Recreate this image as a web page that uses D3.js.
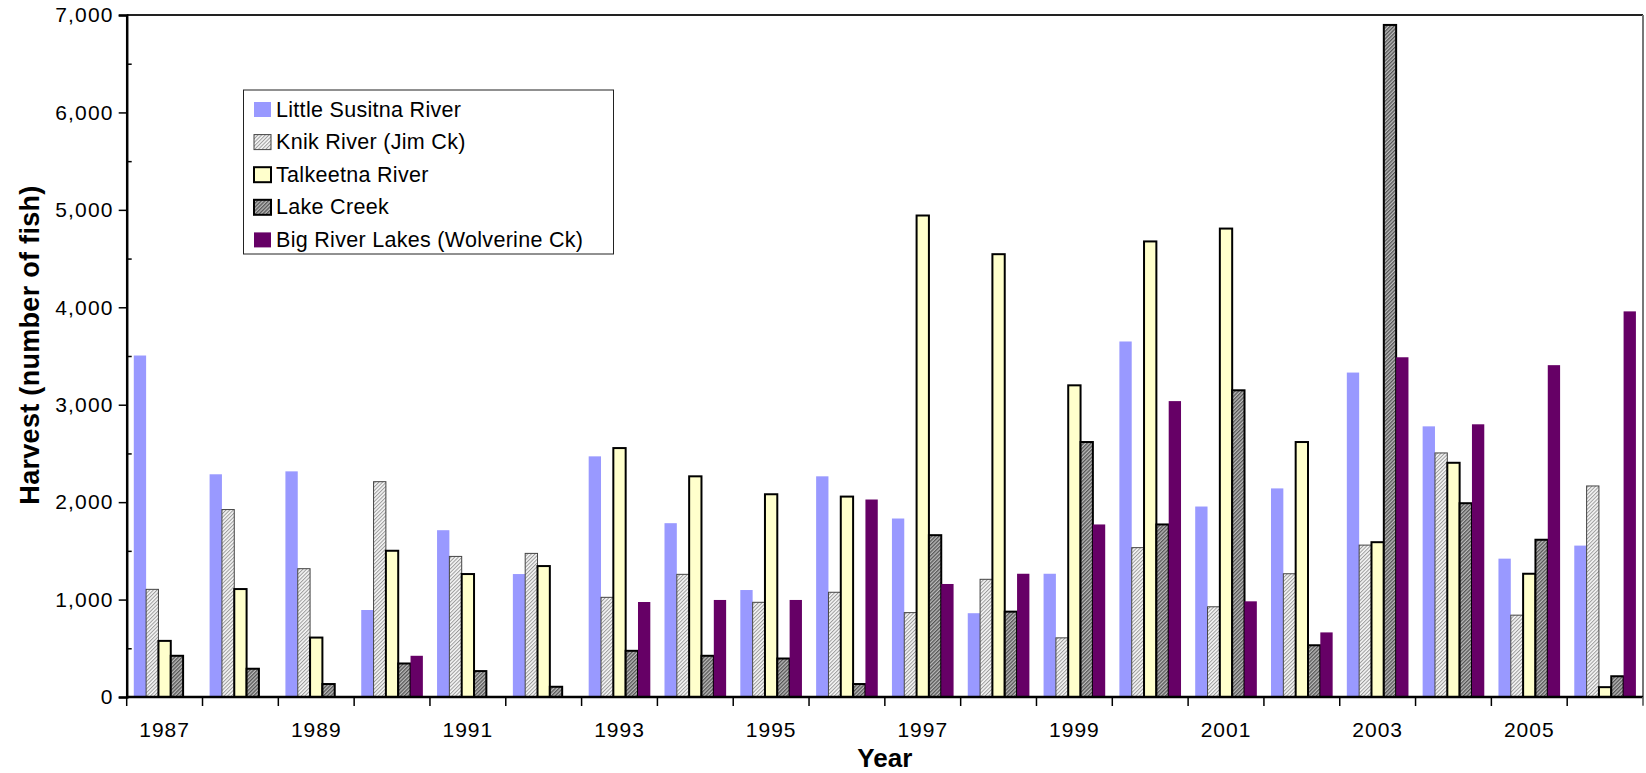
<!DOCTYPE html>
<html>
<head>
<meta charset="utf-8">
<script src="https://cdn.jsdelivr.net/npm/d3@7"></script>
<style>
  body { margin: 0; background: #fff; }
  svg { display: block; font-family: "Liberation Sans", Arial, sans-serif; }
</style>
</head>
<body>
<div id="chart-holder"></div>
<script>
// data
var years = [1987, 1988, 1989, 1990, 1991, 1992, 1993, 1994, 1995, 1996,
             1997, 1998, 1999, 2000, 2001, 2002, 2003, 2004, 2005, 2006];
var seriesNames = ["Little Susitna River", "Knik River (Jim Ck)", "Talkeetna River",
                   "Lake Creek", "Big River Lakes (Wolverine Ck)"];
var littleSusitna = [3505, 2286, 2316, 893, 1712, 1262, 2470, 1784, 1098, 2265,
                     1832, 860, 1265, 3649, 1955, 2141, 3330, 2778, 1420, 1554];
var knik = [1105, 1924, 1317, 2210, 1443, 1474, 1023, 1259, 972, 1075,
            866, 1208, 607, 1533, 926, 1265, 1559, 2505, 840, 2166];
var talkeetna = [576, 1108, 610, 1501, 1262, 1344, 2555, 2265, 2081, 2057,
                 4942, 4545, 3199, 4676, 4808, 2617, 1589, 2404, 1265, 101];
var lakeCreek = [423, 290, 133, 344, 266, 105, 474, 423, 395, 133,
                 1661, 876, 2617, 1771, 3148, 531, 6898, 1989, 1614, 213];
var bigRiver = [0, 0, 0, 423, 0, 0, 975, 996, 996, 2027,
                1160, 1265, 1771, 3037, 982, 663, 3487, 2799, 3406, 3958];
var yTicks = [0, 1000, 2000, 3000, 4000, 5000, 6000, 7000];
var yMinorTicks = [500, 1500, 2500, 3500, 4500, 5500, 6500];
var yearLabels = [1987, 1989, 1991, 1993, 1995, 1997, 1999, 2001, 2003, 2005];

var allSeries = [littleSusitna, knik, talkeetna, lakeCreek, bigRiver];

// looks of each series
var fills = ["#9999ff", "url(#hatchLight)", "#ffffcc", "url(#hatchDark)", "#660066"];
var strokes = ["none", "#444", "#000", "#000", "none"];
var strokeWidths = [0, 1, 2, 2, 0];

var width = 1646, height = 773;
var plotLeft = 126.7, plotRight = 1643, plotTop = 15, plotBottom = 697;

var svg = d3.select("#chart-holder")
  .append("svg")
  .attr("width", width)
  .attr("height", height);

// patterns for the two hatched series
var defs = svg.append("defs");
var p1 = defs.append("pattern")
  .attr("id", "hatchLight")
  .attr("patternUnits", "userSpaceOnUse")
  .attr("width", 2.6).attr("height", 2.6)
  .attr("patternTransform", "rotate(45)");
p1.append("rect").attr("width", 2.6).attr("height", 2.6).attr("fill", "#f6f6f6");
p1.append("rect").attr("width", 1).attr("height", 2.6).attr("fill", "#9a9a9a");

var p2 = defs.append("pattern")
  .attr("id", "hatchDark")
  .attr("patternUnits", "userSpaceOnUse")
  .attr("width", 2.6).attr("height", 2.6)
  .attr("patternTransform", "rotate(45)");
p2.append("rect").attr("width", 2.6).attr("height", 2.6).attr("fill", "#bcbcbc");
p2.append("rect").attr("width", 1.3).attr("height", 2.6).attr("fill", "#555");

// scales
var x0 = d3.scaleBand()
  .domain(years)
  .range([plotLeft, plotRight])
  .padding(0);

var x1 = d3.scaleBand()
  .domain(d3.range(seriesNames.length))
  .range([0, x0.bandwidth()])
  .paddingInner(0)
  .paddingOuter(0.575);

var y = d3.scaleLinear()
  .domain([0, 7000])
  .range([plotBottom, plotTop]);

// bars
var groups = svg.append("g")
  .selectAll("g")
  .data(allSeries)
  .enter()
  .append("g")
  .attr("fill", function(d, i) { return fills[i]; })
  .attr("stroke", function(d, i) { return strokes[i]; })
  .attr("stroke-width", function(d, i) { return strokeWidths[i]; });

groups.each(function(values, si) {
  d3.select(this)
    .selectAll("rect")
    .data(values.map(function(v, k) { return { year: years[k], value: v }; })
      .filter(function(d) { return d.value > 0; }))
    .enter()
    .append("rect")
    .attr("x", function(d) { return x0(d.year) + x1(si); })
    .attr("width", x1.bandwidth())
    .attr("y", function(d) { return y(d.value); })
    .attr("height", function(d) { return plotBottom - y(d.value); });
});

// frame: top and right
svg.append("line")
  .attr("x1", plotLeft).attr("x2", plotRight)
  .attr("y1", plotTop).attr("y2", plotTop)
  .attr("stroke", "#222").attr("stroke-width", 2);
svg.append("line")
  .attr("x1", plotRight).attr("x2", plotRight)
  .attr("y1", plotTop).attr("y2", plotBottom + 8)
  .attr("stroke", "#777").attr("stroke-width", 2);

// y axis
var yAxis = svg.append("g")
  .attr("transform", "translate(" + plotLeft + ",0)")
  .call(d3.axisLeft(y)
    .tickValues(yTicks)
    .tickSize(8)
    .tickPadding(5)
    .tickFormat(d3.format(",")));
yAxis.select(".domain").attr("stroke-width", 2.5);
yAxis.selectAll(".tick line").attr("stroke-width", 1.5);
yAxis.selectAll("text")
  .attr("font-size", 21)
  .attr("letter-spacing", 1.2)
  .attr("fill", "#000");

var yMinor = svg.append("g")
  .attr("transform", "translate(" + plotLeft + ",0)")
  .call(d3.axisRight(y).tickValues(yMinorTicks).tickSize(5).tickFormat(""));
yMinor.select(".domain").remove();
yMinor.selectAll(".tick line").attr("stroke-width", 1.5);

// x axis
svg.append("line")
  .attr("x1", plotLeft).attr("x2", plotRight)
  .attr("y1", plotBottom).attr("y2", plotBottom)
  .attr("stroke", "#000").attr("stroke-width", 2.5);

svg.append("g")
  .selectAll("line")
  .data(years.concat([null]))
  .enter()
  .append("line")
  .attr("x1", function(d) { return d === null ? plotRight : x0(d); })
  .attr("x2", function(d) { return d === null ? plotRight : x0(d); })
  .attr("y1", plotBottom)
  .attr("y2", plotBottom + 9)
  .attr("stroke", function(d) { return d === null ? "#777" : "#000"; })
  .attr("stroke-width", 1.5);

var xAxis = svg.append("g")
  .attr("transform", "translate(0," + plotBottom + ")")
  .call(d3.axisBottom(x0)
    .tickValues(yearLabels)
    .tickSize(0)
    .tickPadding(25));
xAxis.select(".domain").remove();
xAxis.selectAll("text")
  .attr("font-size", 21)
  .attr("letter-spacing", 1)
  .attr("fill", "#000");

// axis titles
svg.append("text")
  .attr("x", (plotLeft + plotRight) / 2)
  .attr("y", 767)
  .attr("text-anchor", "middle")
  .attr("font-size", 26)
  .attr("font-weight", "bold")
  .text("Year");

svg.append("text")
  .attr("transform", "translate(39,345) rotate(-90)")
  .attr("text-anchor", "middle")
  .attr("font-size", 27)
  .attr("font-weight", "bold")
  .attr("letter-spacing", 0.3)
  .text("Harvest (number of fish)");

// legend
var legend = svg.append("g");
legend.append("rect")
  .attr("x", 243.5).attr("y", 90)
  .attr("width", 370).attr("height", 164)
  .attr("fill", "#fff")
  .attr("stroke", "#222")
  .attr("stroke-width", 1);

var items = legend.selectAll("g.item")
  .data(seriesNames)
  .enter()
  .append("g")
  .attr("class", "item")
  .attr("transform", function(d, i) { return "translate(254," + (102 + i * 32.6) + ")"; });

items.append("rect")
  .attr("width", 17).attr("height", 15)
  .attr("fill", function(d, i) { return fills[i]; })
  .attr("stroke", function(d, i) { return strokes[i]; })
  .attr("stroke-width", function(d, i) { return strokeWidths[i]; });

items.append("text")
  .attr("x", 22)
  .attr("y", 14.5)
  .attr("font-size", 21.5)
  .attr("letter-spacing", 0.3)
  .text(function(d) { return d; });
</script>
</body>
</html>
